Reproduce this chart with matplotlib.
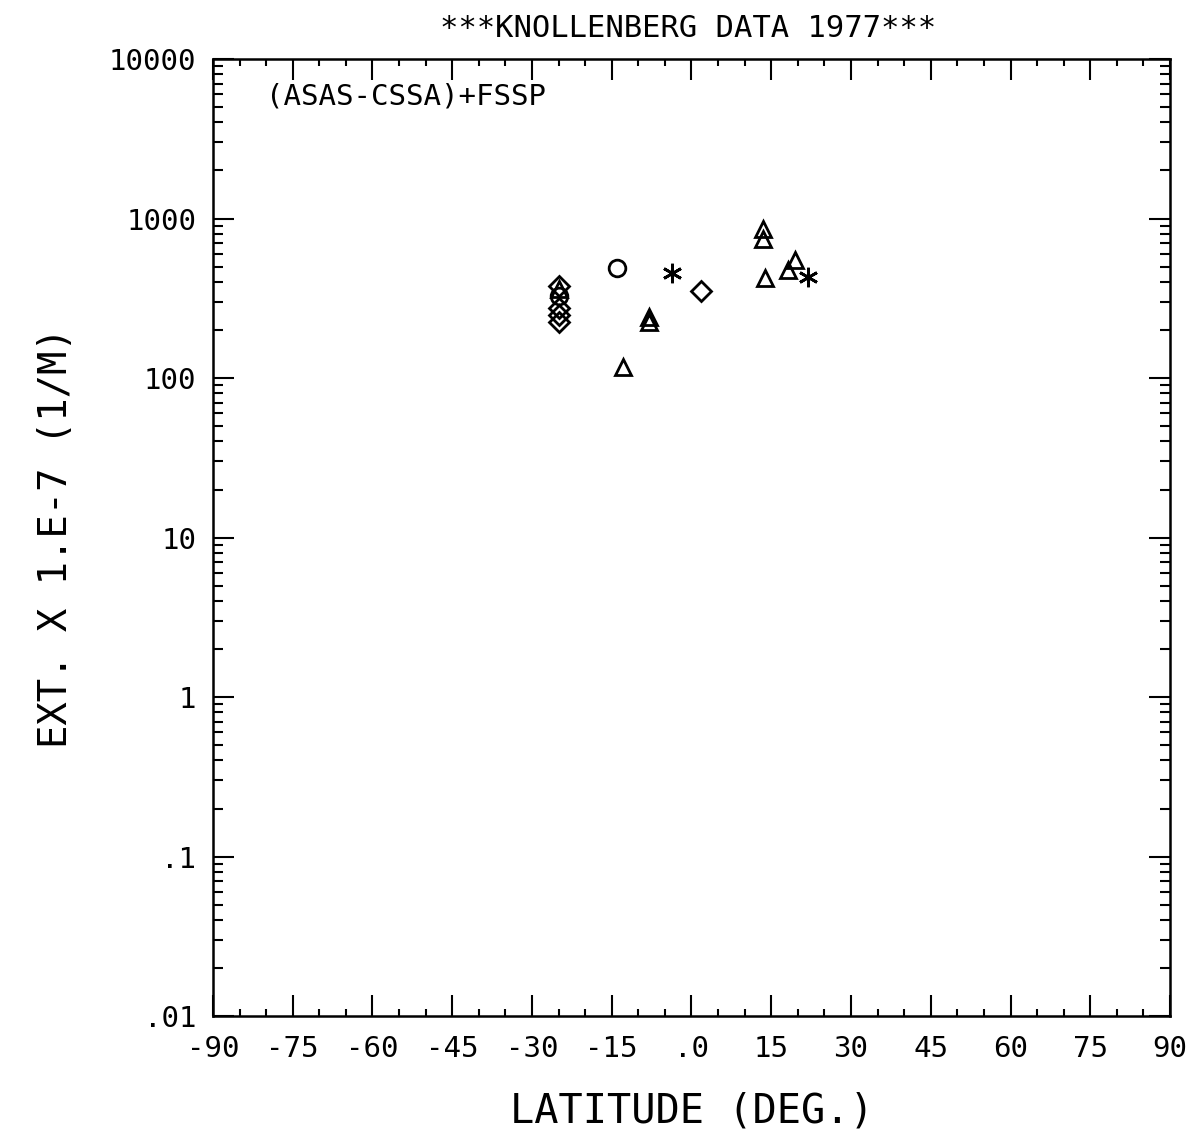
import matplotlib
matplotlib.use("Agg")
import matplotlib.pyplot as plt
from matplotlib.ticker import FixedLocator, LogLocator, NullFormatter

FONT = "DejaVu Sans Mono"

# data (latitude in deg, extinction x 1e-7 1/m)
diam_lat = [-25.0, -25.0, -25.0, -25.0, 1.8]
diam_ext = [378, 275, 250, 224, 351]
circ_lat = [-25.0, -14.0]
circ_ext = [327, 490]
tri_lat = [-25.0, -8.0, -8.0, -12.9, 13.4, 13.4, 13.8, 19.5, 18.1]
tri_ext = [362, 240, 225, 117, 859, 743, 424, 549, 475]
star_lat = [-3.7, 21.9]
star_ext = [455, 430]

xticks = [-90, -75, -60, -45, -30, -15, 0, 15, 30, 45, 60, 75, 90]
xlabels = ["-90", "-75", "-60", "-45", "-30", "-15", ".0", "15", "30", "45", "60", "75", "90"]
yticks = [0.01, 0.1, 1, 10, 100, 1000, 10000]
ylabels = [".01", ".1", "1", "10", "100", "1000", "10000"]

fig = plt.figure(figsize=(12.03, 11.37), dpi=100)
ax = fig.add_axes([0.177, 0.1064, 0.7956, 0.8417])
ax.set_yscale("log")
ax.set_xlim(-90, 90)
ax.set_ylim(0.01, 10000)

mk = dict(linestyle="none", markerfacecolor="none", markeredgecolor="black",
          markeredgewidth=2.0, markersize=12)
ax.plot(diam_lat, diam_ext, marker="D", **dict(mk, markersize=10))
ax.plot(circ_lat, circ_ext, marker="o", **mk)
ax.plot(tri_lat, tri_ext, marker="^", **mk)
ax.plot(star_lat, star_ext, marker=(6, 2, 0), linestyle="none", color="black",
        markeredgewidth=2.0, markersize=14)

ax.xaxis.set_major_locator(FixedLocator(xticks))
ax.xaxis.set_minor_locator(FixedLocator(list(range(-85, 90, 5))))
ax.set_xticklabels(xlabels, fontfamily=FONT, fontsize=21)
ax.yaxis.set_major_locator(FixedLocator(yticks))
ax.yaxis.set_minor_locator(LogLocator(base=10, subs=range(2, 10)))
ax.yaxis.set_minor_formatter(NullFormatter())
ax.set_yticklabels(ylabels, fontfamily=FONT, fontsize=21)

ax.tick_params(which="both", direction="in", top=True, right=True, width=1.5)
ax.tick_params(which="major", length=15)
ax.tick_params(axis="y", which="minor", length=7)
ax.tick_params(axis="x", which="minor", length=5)
ax.tick_params(axis="x", which="major", pad=14)
ax.tick_params(axis="y", which="major", pad=12)
for s in ax.spines.values():
    s.set_linewidth(1.8)

ax.text(0.055, 0.975, "(ASAS-CSSA)+FSSP", transform=ax.transAxes, ha="left", va="top",
        fontfamily=FONT, fontsize=21)
fig.text(0.572, 0.975, "***KNOLLENBERG DATA 1977***", ha="center", va="center",
         fontfamily=FONT, fontsize=22)
ax.set_xlabel("LATITUDE (DEG.)", fontfamily=FONT, fontsize=29, labelpad=20)
ax.set_ylabel("EXT. X 1.E-7 (1/M)", fontfamily=FONT, fontsize=28, labelpad=24)

fig.savefig("out.png", facecolor="white")
